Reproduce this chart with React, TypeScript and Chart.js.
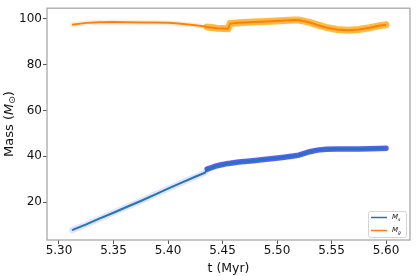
import React, { useEffect, useRef } from "react";
import { Chart, registerables } from "chart.js";

Chart.register(...registerables);

const TIME = [5.312, 5.325, 5.337, 5.35, 5.362, 5.375, 5.387, 5.4, 5.412, 5.425, 5.434, 5.436, 5.445, 5.455, 5.457, 5.465, 5.478, 5.49, 5.503, 5.515, 5.52, 5.53, 5.537, 5.545, 5.555, 5.565, 5.575, 5.585, 5.593, 5.6];
const MS = [7.8, 10.3, 12.8, 15.4, 17.9, 20.5, 23.1, 25.9, 28.4, 31.1, 32.9, 34.4, 35.9, 36.9, 37.0, 37.5, 38.1, 38.7, 39.4, 40.1, 40.5, 42.0, 42.7, 43.1, 43.2, 43.2, 43.2, 43.3, 43.4, 43.5];
const MG = [97.4, 98.2, 98.5, 98.6, 98.5, 98.4, 98.4, 98.2, 97.8, 97.2, 96.6, 96.4, 95.9, 95.7, 97.9, 98.3, 98.6, 98.8, 99.1, 99.4, 99.4, 98.4, 97.3, 96.2, 95.3, 95.0, 95.3, 96.1, 96.9, 97.4];
const SPLIT_T = 5.435;
const X_TICKS = [5.3, 5.35, 5.4, 5.45, 5.5, 5.55, 5.6];
const Y_TICKS = [20, 40, 60, 80, 100];
const SERIES_LABELS = ["s", "g"];

const FONT = "'DejaVu Sans', sans-serif";

export default function App() {
  const ref = useRef<HTMLCanvasElement | null>(null);
  useEffect(() => {
    document.body.style.margin = "0";
    const canvas = ref.current;
    if (!canvas) return;
    const pts = (ys: number[]) => TIME.map((t, i) => ({ x: t, y: ys[i] }));
    const early = (ys: number[]) => TIME.map((t, i) => ({ x: t, y: ys[i] })).filter((p) => p.x <= SPLIT_T + 0.0015);
    const late = (ys: number[]) => TIME.map((t, i) => ({ x: t, y: ys[i] })).filter((p) => p.x >= SPLIT_T);

    const frame = {
      id: "frame",
      afterDraw(chart: any) {
        const { ctx, chartArea: a } = chart;
        ctx.save();
        ctx.strokeStyle = "#a8a8a8";
        ctx.lineWidth = 1.3;
        ctx.strokeRect(a.left, a.top, a.right - a.left, a.bottom - a.top);
        // y title
        ctx.translate(10, (a.top + a.bottom) / 2);
        ctx.rotate(-Math.PI / 2);
        ctx.fillStyle = "#111";
        ctx.textBaseline = "middle";
        const f1 = `13px ${FONT}`;
        const f2 = `italic 13px ${FONT}`;
        const f3 = `9px ${FONT}`;
        const parts: [string, string, number][] = [
          ["Mass (", f1, 0],
          ["M", f2, 0],
          ["⊙", f3, 3],
          [")", f1, 0],
        ];
        let total = 0;
        for (const [s, f] of parts) {
          ctx.font = f;
          total += ctx.measureText(s).width;
        }
        let x = -total / 2;
        ctx.textAlign = "left";
        for (const [s, f, dy] of parts) {
          ctx.font = f;
          ctx.fillText(s, x, dy);
          x += ctx.measureText(s).width;
        }
        ctx.restore();

        // legend
        ctx.save();
        const bx = 368, by = 211, bw = 38, bh = 26;
        ctx.fillStyle = "rgba(255,255,255,0.85)";
        ctx.strokeStyle = "#d4d4d4";
        ctx.lineWidth = 1;
        ctx.beginPath();
        (ctx as any).roundRect(bx + 0.5, by + 0.5, bw, bh, 2);
        ctx.fill();
        ctx.stroke();
        const colors = ["#1f77b4", "#ff7f0e"];
        SERIES_LABELS.forEach((lab, i) => {
          const y = by + 6.5 + i * 13;
          ctx.strokeStyle = colors[i];
          ctx.lineWidth = 1.5;
          ctx.beginPath();
          ctx.moveTo(bx + 3, y);
          ctx.lineTo(bx + 19, y);
          ctx.stroke();
          ctx.fillStyle = "#111";
          ctx.textBaseline = "middle";
          ctx.textAlign = "left";
          ctx.font = `italic 7px ${FONT}`;
          ctx.fillText("M", bx + 24, y);
          const w = ctx.measureText("M").width;
          ctx.font = `italic 4.5px ${FONT}`;
          ctx.fillText(lab, bx + 24 + w, y + 2);
        });
        ctx.restore();
      },
    };

    const chart = new Chart(canvas, {
      type: "line",
      data: {
        datasets: [
          { label: "Ms", data: pts(MS), borderColor: "#1f77b4", borderWidth: 2, pointRadius: 0, tension: 0, order: 0 },
          { label: "Mg", data: pts(MG), borderColor: "#ff7f0e", borderWidth: 2, pointRadius: 0, tension: 0, order: 0 },
          { label: "h1", data: early(MS), borderColor: "rgba(170,170,245,0.35)", borderWidth: 6, pointRadius: 0, order: 2, borderCapStyle: "round" },
          { label: "h2", data: late(MS), borderColor: "rgba(50,60,240,0.82)", borderWidth: 5.5, pointRadius: 0, order: 1, borderCapStyle: "round" },
          { label: "h3", data: early(MG), borderColor: "rgba(255,200,130,0.3)", borderWidth: 5, pointRadius: 0, order: 2, borderCapStyle: "round" },
          { label: "h4", data: late(MG), borderColor: "rgba(255,175,30,0.85)", borderWidth: 7, pointRadius: 0, order: 1, borderCapStyle: "round" },
        ],
      },
      options: {
        responsive: false,
        animation: false,
        layout: { padding: { top: 5, right: 6, left: 0, bottom: 0 } },
        plugins: { legend: { display: false }, tooltip: { enabled: false } },
        scales: {
          x: {
            type: "linear",
            min: 5.289,
            max: 5.622,
            afterBuildTicks: (s: any) => {
              s.ticks = X_TICKS.map((v) => ({ value: v }));
            },
            afterFit: (s: any) => {
              s.height = 36;
            },
            grid: { display: true, drawOnChartArea: false, drawTicks: true, tickLength: 4, color: "#555" },
            border: { display: false },
            ticks: { color: "#111", font: { family: FONT, size: 12 }, padding: 0, maxRotation: 0, autoSkip: false, callback: (v: any) => Number(v).toFixed(2) },
            title: { display: true, text: "t (Myr)", color: "#111", font: { family: FONT, size: 12.5 }, padding: 0 },
          },
          y: {
            min: 3.5,
            max: 104.6,
            afterBuildTicks: (s: any) => {
              s.ticks = Y_TICKS.map((v) => ({ value: v }));
            },
            afterFit: (s: any) => {
              s.width = 47;
            },
            grid: { display: true, drawOnChartArea: false, drawTicks: true, tickLength: 4, color: "#555" },
            border: { display: false },
            ticks: { color: "#111", font: { family: FONT, size: 12 }, padding: 1 },
          },
        },
      },
      plugins: [frame],
    } as any);
    return () => chart.destroy();
  }, []);
  return (
    <div style={{ width: 416, height: 276 }}>
      <canvas ref={ref} width={416} height={276} style={{ display: "block" }} />
    </div>
  );
}
